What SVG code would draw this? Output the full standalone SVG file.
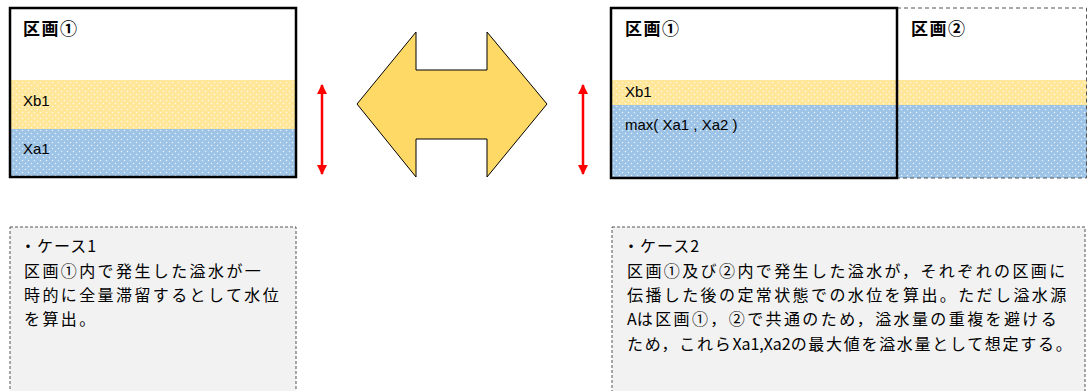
<svg xmlns="http://www.w3.org/2000/svg" width="1088" height="391" viewBox="0 0 1088 391">
<defs>
<pattern id="dotsY" width="6" height="6" patternUnits="userSpaceOnUse">
<rect width="6" height="6" fill="#FFE699"/>
<circle cx="1.5" cy="1.5" r="0.75" fill="#ffffff" opacity="0.8"/>
<circle cx="4.5" cy="4.5" r="0.75" fill="#ffffff" opacity="0.8"/>
</pattern>
<pattern id="dotsB" width="6" height="6" patternUnits="userSpaceOnUse">
<rect width="6" height="6" fill="#9DC3E6"/>
<circle cx="1.5" cy="1.5" r="0.75" fill="#ffffff" opacity="0.8"/>
<circle cx="4.5" cy="4.5" r="0.75" fill="#ffffff" opacity="0.8"/>
</pattern>
<marker id="redHead" viewBox="0 0 10 10" refX="9" refY="5" markerWidth="4" markerHeight="4" orient="auto-start-reverse" markerUnits="strokeWidth">
<path d="M0,0 L10,5 L0,10 Z" fill="#FF0000"/>
</marker>
<style>
.lbl{font-family:"Noto Sans CJK JP","Noto Sans",sans-serif;font-size:17px;font-weight:bold;fill:#000;letter-spacing:1.5px}
.lat{font-family:"Liberation Sans","Noto Sans",sans-serif;font-size:15px;fill:#000}
.desc{font-family:"Noto Sans CJK JP","Noto Sans",sans-serif;font-size:16px;fill:#000;letter-spacing:2.4px}
.ln{letter-spacing:0px}
.solid{fill:none;stroke:#000;stroke-width:2.5}
.dash{fill:none;stroke:#555;stroke-width:1;stroke-dasharray:4 3}
.note{fill:#F2F2F2;stroke:#555;stroke-width:1;stroke-dasharray:3 2}
.red{stroke:#FF0000;stroke-width:2.5;fill:none}
</style>
</defs>
<rect width="1088" height="391" fill="#ffffff"/>

<g id="case1-section">
<rect x="10" y="8" width="286" height="72" fill="#ffffff"/>
<rect x="10" y="80" width="286" height="49" fill="url(#dotsY)"/>
<rect x="10" y="129" width="286" height="48" fill="url(#dotsB)"/>
<rect x="10" y="8" width="286" height="169" class="solid"/>
<text x="23" y="35" class="lbl">区画①</text>
<text x="23" y="106" class="lat">Xb1</text>
<text x="23" y="154" class="lat">Xa1</text>
</g>

<g id="case2-section">
<rect x="611" y="80" width="476" height="25" fill="url(#dotsY)"/>
<rect x="611" y="105" width="476" height="73" fill="url(#dotsB)"/>
<rect x="897" y="8" width="189.5" height="170" class="dash"/>
<rect x="611" y="8" width="286" height="170" class="solid"/>
<text x="625" y="35" class="lbl">区画①</text>
<text x="911" y="35" class="lbl">区画②</text>
<text x="625" y="97" class="lat">Xb1</text>
<text x="625" y="130" class="lat">max( Xa1 , Xa2 )</text>
</g>

<g id="double-arrow">
<polygon points="357,104 416,32 416,70 487,70 487,32 547,104 487,177 487,139 416,139 416,177" fill="#FFD966" stroke="#000" stroke-width="1"/>
</g>

<g id="connectors">
<line x1="322" y1="85" x2="322" y2="174" class="red" marker-start="url(#redHead)" marker-end="url(#redHead)"/>
<line x1="583" y1="85" x2="583" y2="174" class="red" marker-start="url(#redHead)" marker-end="url(#redHead)"/>
</g>

<g id="note-case1">
<rect x="10" y="227" width="286" height="180" class="note"/>
<text x="20" y="252" class="desc" style="letter-spacing:1px">・ケース<tspan class="ln">1</tspan></text>
<text x="24" y="277" class="desc">区画①内で発生した溢水が一</text>
<text x="24" y="301" class="desc">時的に全量滞留するとして水位</text>
<text x="24" y="325" class="desc">を算出。</text>
</g>

<g id="note-case2">
<rect x="612" y="227" width="473" height="180" class="note"/>
<text x="623" y="252" class="desc" style="letter-spacing:1px">・ケース<tspan class="ln">2</tspan></text>
<text x="627" y="277" class="desc">区画①及び②内で発生した溢水が，それぞれの区画に</text>
<text x="627" y="301" class="desc">伝播した後の定常状態での水位を算出。ただし溢水源</text>
<text x="627" y="325" class="desc"><tspan class="ln">A</tspan>は区画①，②で共通のため，溢水量の重複を避ける</text>
<text x="627" y="350" class="desc" style="letter-spacing:1.7px">ため，これら<tspan class="ln">Xa1,Xa2</tspan>の最大値を溢水量として想定する。</text>
</g>
</svg>
